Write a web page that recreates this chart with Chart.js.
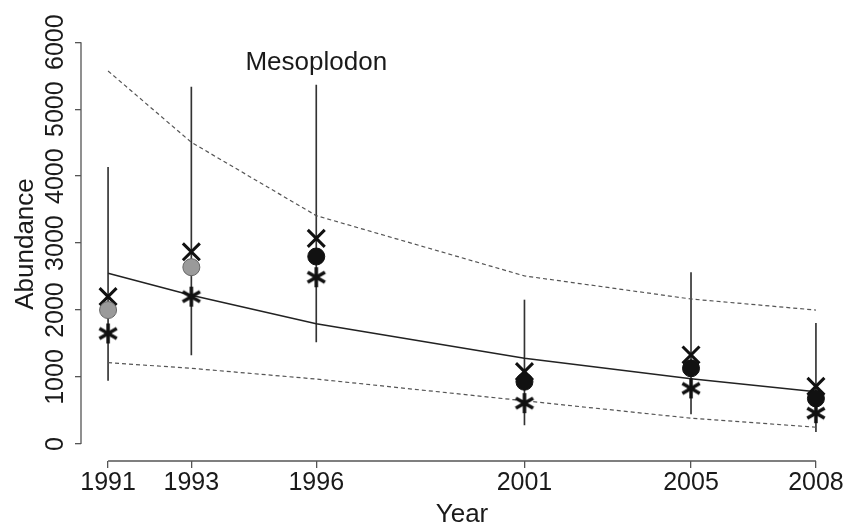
<!DOCTYPE html>
<html>
<head>
<meta charset="utf-8">
<script src="https://cdn.jsdelivr.net/npm/chart.js@4/dist/chart.umd.min.js"></script>
<style>
html, body { margin: 0; padding: 0; background: #fff; }
#wrap { width: 858px; height: 525px; }
</style>
</head>
<body>
<div id="wrap"><canvas id="c"></canvas></div>
<script>
var years = [1991, 1993, 1996, 2001, 2005, 2008];
var estimate = [2000, 2640, 2800, 930, 1130, 680];      // circles
var altEstimate = [2200, 2870, 3070, 1080, 1330, 860];  // X
var starEstimate = [1650, 2200, 2490, 610, 830, 460];   // asterisks
var ciLow = [950, 1330, 1525, 285, 450, 185];
var ciHigh = [4130, 5330, 5360, 2150, 2560, 1800];
var trend = [2550, 2220, 1795, 1280, 975, 780];
var trendUpper = [5570, 4505, 3410, 2510, 2165, 2000];
var trendLower = [1215, 1130, 970, 645, 385, 250];
var yTicks = [0, 1000, 2000, 3000, 4000, 5000, 6000];

var FONT = '"Liberation Sans", Arial, sans-serif';

function pts(arr) {
  return years.map(function (y, i) { return { x: y, y: arr[i] }; });
}

// six armed asterisk as a point image
function makeStar(r, lw) {
  var c = document.createElement('canvas');
  var s = Math.ceil(2 * r + lw + 2);
  c.width = s; c.height = s;
  var g = c.getContext('2d');
  g.strokeStyle = '#111';
  g.lineWidth = lw;
  g.translate(s / 2, s / 2);
  for (var k = 0; k < 3; k++) {
    var a = Math.PI / 2 + k * Math.PI / 3;
    g.beginPath();
    g.moveTo(-r * Math.cos(a), -r * Math.sin(a));
    g.lineTo(r * Math.cos(a), r * Math.sin(a));
    g.stroke();
  }
  return c;
}

var rStyle = {
  id: 'rStyle',
  afterDraw: function (chart) {
    var ctx = chart.ctx, xs = chart.scales.x, ys = chart.scales.y, a = chart.chartArea;
    ctx.save();
    ctx.strokeStyle = '#555';
    ctx.lineWidth = 1.3;
    ctx.beginPath();
    ctx.moveTo(xs.getPixelForValue(years[0]), a.bottom);
    ctx.lineTo(xs.getPixelForValue(years[years.length - 1]), a.bottom);
    ctx.moveTo(a.left, ys.getPixelForValue(yTicks[0]));
    ctx.lineTo(a.left, ys.getPixelForValue(yTicks[yTicks.length - 1]));
    ctx.stroke();

    ctx.fillStyle = '#1a1a1a';
    ctx.font = '25px ' + FONT;
    ctx.textAlign = 'center';
    ctx.textBaseline = 'alphabetic';
    yTicks.forEach(function (v) {
      ctx.save();
      ctx.translate(a.left - 18, ys.getPixelForValue(v));
      ctx.rotate(-Math.PI / 2);
      ctx.fillText(String(v), 0, 0);
      ctx.restore();
    });

    ctx.font = '26px ' + FONT;
    ctx.save();
    ctx.translate(33, (a.top + a.bottom) / 2);
    ctx.rotate(-Math.PI / 2);
    ctx.fillText('Abundance', 0, 0);
    ctx.restore();
    ctx.fillText('Year', (a.left + a.right) / 2, 522);
    ctx.fillText('Mesoplodon', xs.getPixelForValue(1996), ys.getPixelForValue(5585));
    ctx.restore();
  }
};

new Chart(document.getElementById('c'), {
  type: 'line',
  data: {
    datasets: [
      {
        data: pts(starEstimate), showLine: false,
        pointStyle: makeStar(10, 3.5), pointRadius: 10, order: 1
      },
      {
        data: pts(estimate), showLine: false,
        pointStyle: 'circle', pointRadius: 8.5, borderWidth: 1,
        backgroundColor: function (c) { return years[c.dataIndex] < 1996 ? '#9a9a9a' : '#111'; },
        borderColor: function (c) { return years[c.dataIndex] < 1996 ? '#666' : '#111'; },
        order: 2
      },
      {
        data: pts(altEstimate), showLine: false,
        pointStyle: 'crossRot', pointRadius: 12, borderWidth: 3, borderColor: '#111', order: 3
      },
      {
        data: pts(trend), borderColor: '#222', borderWidth: 1.5, pointRadius: 0, tension: 0, order: 4
      },
      {
        data: pts(trendUpper), borderColor: '#555', borderWidth: 1.2, borderDash: [4, 3], pointRadius: 0, order: 5
      },
      {
        data: pts(trendLower), borderColor: '#555', borderWidth: 1.2, borderDash: [4, 3], pointRadius: 0, order: 6
      },
      {
        type: 'bar',
        data: years.map(function (y, i) { return { x: y, y: [ciLow[i], ciHigh[i]] }; }),
        backgroundColor: '#333', barThickness: 1, order: 8
      }
    ]
  },
  options: {
    responsive: true,
    maintainAspectRatio: false,
    animation: false,
    layout: { padding: { top: 27, right: 14, left: 0, bottom: 0 } },
    plugins: { legend: { display: false }, tooltip: { enabled: false } },
    scales: {
      x: {
        type: 'linear', min: 1990.35, max: 2008.65, offset: false,
        afterBuildTicks: function (s) { s.ticks = years.map(function (v) { return { value: v }; }); },
        afterFit: function (s) { s.height = 64; },
        grid: { drawOnChartArea: false, tickLength: 7, color: '#555', lineWidth: 1.3, offset: false },
        border: { display: false },
        ticks: {
          color: '#1a1a1a', font: { family: FONT, size: 25 }, padding: 0,
          maxRotation: 0, autoSkip: false,
          callback: function (v) { return String(v); }
        }
      },
      y: {
        type: 'linear', min: -254, max: 6227,
        afterBuildTicks: function (s) { s.ticks = yTicks.map(function (v) { return { value: v }; }); },
        afterFit: function (s) { s.width = 81; },
        grid: { drawOnChartArea: false, tickLength: 6, color: '#555', lineWidth: 1.3 },
        border: { display: false },
        ticks: { display: false }
      }
    }
  },
  plugins: [rStyle]
});
</script>
</body>
</html>
